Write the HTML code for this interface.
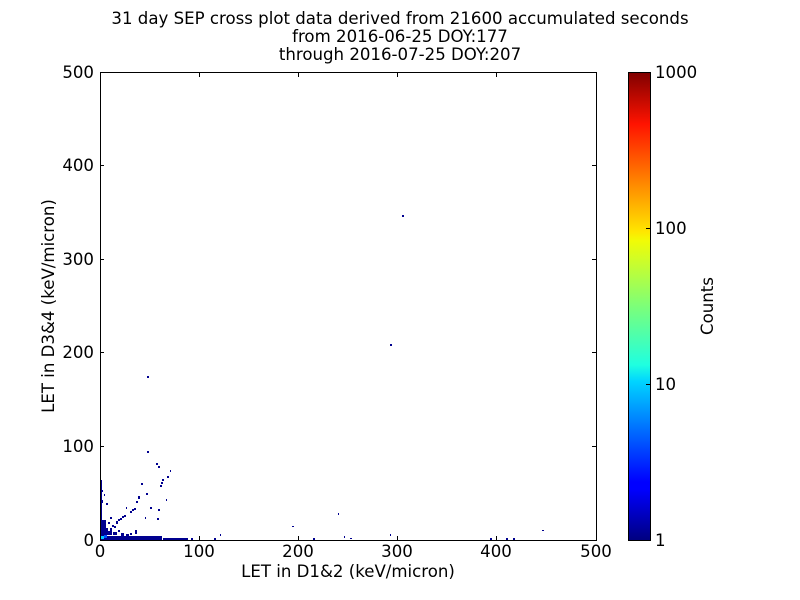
<!DOCTYPE html>
<html><head><style>
html,body{margin:0;padding:0;background:#fff}
svg{display:block;font-family:"DejaVu Sans","Liberation Sans",sans-serif}
</style></head><body>
<svg width="800" height="600" viewBox="0 0 800 600" xmlns="http://www.w3.org/2000/svg">
<defs>
<linearGradient id="jet" x1="0" y1="1" x2="0" y2="0">
<stop offset="0" stop-color="#00007f"/>
<stop offset="0.11" stop-color="#0000ff"/>
<stop offset="0.125" stop-color="#0000ff"/>
<stop offset="0.34" stop-color="#00d4ff"/>
<stop offset="0.375" stop-color="#1fffe0"/>
<stop offset="0.5" stop-color="#7cff79"/>
<stop offset="0.64" stop-color="#f1fc06"/>
<stop offset="0.66" stop-color="#ffe600"/>
<stop offset="0.89" stop-color="#ff1300"/>
<stop offset="1" stop-color="#800000"/>
</linearGradient>
</defs>
<g font-size="16.6" text-anchor="middle" fill="#000">
<text x="400" y="24">31 day SEP cross plot data derived from 21600 accumulated seconds</text>
<text x="400" y="42">from 2016-06-25 DOY:177</text>
<text x="400" y="60">through 2016-07-25 DOY:207</text>
</g>
<!-- data -->
<g fill="#00008f">
<rect x="100" y="480" width="2" height="60"/>
<rect x="102" y="490" width="1" height="2"/><rect x="102" y="500" width="1" height="3"/>
<rect x="100" y="536" width="62" height="4"/>
<rect x="100" y="520" width="6" height="20"/>
<rect x="103" y="524" width="3" height="2"/><rect x="108" y="522" width="2" height="2"/><rect x="104" y="528" width="4" height="3"/>
<rect x="110" y="528" width="2" height="3"/><rect x="106" y="531" width="6" height="4"/><rect x="113" y="532" width="4" height="3"/>
<rect x="118" y="530" width="2" height="2"/><rect x="121" y="533" width="3" height="3"/><rect x="126" y="534" width="3" height="2"/>
<rect x="135" y="530" width="2" height="4"/><rect x="130" y="533" width="2" height="2"/><rect x="112" y="525" width="2" height="2"/>
<rect x="116" y="521" width="2" height="3"/><rect x="118" y="519" width="2" height="2"/><rect x="120" y="518" width="2" height="2"/><rect x="122" y="516" width="2" height="2"/><rect x="124" y="515" width="2" height="2"/>
<rect x="110" y="517" width="2" height="2"/><rect x="114" y="526" width="2" height="2"/>
<rect x="163" y="538" width="25" height="2"/>
<rect x="147" y="451" width="2" height="2"/><rect x="156" y="463" width="2" height="2"/><rect x="158" y="466" width="2" height="2"/>
<rect x="167" y="476" width="2" height="2"/><rect x="170" y="470" width="1" height="2"/><rect x="141" y="483" width="2" height="2"/>
<rect x="162" y="479" width="2" height="2"/><rect x="161" y="482" width="2" height="2"/><rect x="160" y="485" width="2" height="2"/>
<rect x="146" y="493" width="2" height="2"/><rect x="138" y="496" width="2" height="3"/><rect x="136" y="501" width="2" height="2"/>
<rect x="166" y="499" width="1" height="2"/><rect x="106" y="503" width="2" height="2"/><rect x="104" y="494" width="1" height="2"/>
<rect x="150" y="507" width="2" height="2"/><rect x="158" y="509" width="2" height="2"/><rect x="134" y="508" width="2" height="2"/>
<rect x="130" y="511" width="2" height="2"/><rect x="132" y="509" width="2" height="2"/><rect x="126" y="507" width="1" height="2"/>
<rect x="157" y="518" width="2" height="2"/><rect x="145" y="517" width="1" height="2"/>
<rect x="147" y="376" width="2" height="2"/><rect x="402" y="215" width="2" height="2"/><rect x="390" y="344" width="2" height="2"/>
<rect x="181" y="538" width="2" height="2"/><rect x="191" y="538" width="2" height="2"/><rect x="214" y="538" width="2" height="2"/>
<rect x="220" y="534" width="1" height="2"/><rect x="292" y="526" width="2" height="1"/><rect x="313" y="538" width="2" height="2"/>
<rect x="338" y="513" width="1" height="2"/><rect x="344" y="536" width="1" height="2"/><rect x="350" y="538" width="2" height="1"/>
<rect x="390" y="534" width="1" height="2"/><rect x="490" y="538" width="2" height="2"/><rect x="506" y="538" width="2" height="2"/>
<rect x="513" y="538" width="2" height="2"/><rect x="542" y="530" width="2" height="1"/>
</g>
<rect x="101" y="536" width="3" height="3" fill="#00c8ff"/>
<rect x="104" y="535" width="3" height="3" fill="#0050ff"/>
<!-- axes -->
<rect x="100.5" y="72.5" width="496" height="468" fill="none" stroke="#000" stroke-width="1"/>
<g stroke="#000" stroke-width="1">
<path d="M100.5 540v-4M199.5 540v-4M298.5 540v-4M397.5 540v-4M496.5 540v-4M596.5 540v-4"/>
<path d="M100.5 73v4M199.5 73v4M298.5 73v4M397.5 73v4M496.5 73v4M596.5 73v4"/>
<path d="M100 540.5h4M100 446.5h4M100 352.5h4M100 259.5h4M100 165.5h4M100 72.5h4"/>
<path d="M596 540.5h-4M596 446.5h-4M596 352.5h-4M596 259.5h-4M596 165.5h-4M596 72.5h-4"/>
</g>
<g font-size="16.6" fill="#000">
<g text-anchor="middle">
<text x="100" y="557">0</text><text x="199" y="557">100</text><text x="298" y="557">200</text><text x="397" y="557">300</text><text x="496" y="557">400</text><text x="596" y="557">500</text>
<text x="348" y="577">LET in D1&amp;2 (keV/micron)</text>
</g>
<g text-anchor="end">
<text x="94" y="546">0</text><text x="94" y="452">100</text><text x="94" y="358">200</text><text x="94" y="265">300</text><text x="94" y="171">400</text><text x="94" y="78">500</text>
</g>
<text transform="translate(54 306) rotate(-90)" text-anchor="middle">LET in D3&amp;4 (keV/micron)</text>
</g>
<!-- colorbar -->
<rect x="628.5" y="72.5" width="22" height="468" fill="url(#jet)" stroke="#000" stroke-width="1"/>
<g stroke="#000"><path d="M650 228.5h-4M650 384.5h-4"/></g>
<g font-size="16.6" fill="#000">
<text x="655" y="78">1000</text><text x="655" y="234">100</text><text x="655" y="390">10</text><text x="655" y="546">1</text>
<text transform="translate(713 306) rotate(-90)" text-anchor="middle">Counts</text>
</g>
</svg>
</body></html>
